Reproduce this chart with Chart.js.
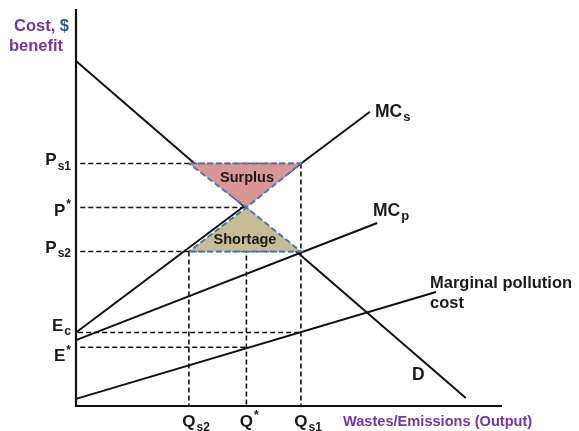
<!DOCTYPE html>
<html><head><meta charset="utf-8">
<script src="https://cdn.jsdelivr.net/npm/chart.js@4.4.1/dist/chart.umd.min.js"></script>
<style>html,body{margin:0;padding:0;background:#fff;}canvas{display:block;}</style>
</head><body>
<canvas id="c" width="579" height="431"></canvas>
<script>
// Quantities (x) and prices/costs (y), in chart units
const qLevels = { Qs2: 2.65, Qstar: 4.0, Qs1: 5.28 };
const pLevels = { Ps1: 6.11, Pstar: 5.0, Ps2: 3.89, Ec: 1.85, Estar: 1.48 };

// Curves (start and end points)
const demandCurve = [[0, 8.69], [9.15, 0.2]];
const mcSocialCurve = [[0, 1.85], [6.90, 7.41]];
const mcPrivateCurve = [[0, 1.66], [7.07, 4.61]];
const pollutionCostCurve = [[0, 0.18], [8.45, 2.87]];

// Surplus / shortage triangles
const surplusTriangle = [[2.65, 6.11], [5.28, 6.11], [4.0, 5.0], [2.65, 6.11]];
const shortageTriangle = [[2.65, 3.89], [5.28, 3.89], [4.0, 5.0], [2.65, 3.89]];

// Axis tick labels
const yTickValues = [6.11, 5.0, 3.89, 1.85, 1.48];
const yTickBase = ['P', 'P', 'P', 'E', 'E'];
const yTickSub = ['s1', '', 's2', 'c', ''];
const yTickSup = ['', '*', '', '', '*'];
const xTickValues = [2.65, 4.0, 5.28];
const xTickBase = ['Q', 'Q', 'Q'];
const xTickSub = ['s2', '', 's1'];
const xTickSup = ['', '*', ''];

const toPts = a => a.map(p => ({ x: p[0], y: p[1] }));

const guide = (pts) => ({
  data: toPts(pts), showLine: true, borderColor: '#111', borderWidth: 1.6,
  borderDash: [5, 3], pointRadius: 0, fill: false, order: 5
});
const curve = (pts) => ({
  data: toPts(pts), showLine: true, borderColor: '#111', borderWidth: 2,
  pointRadius: 0, fill: false, order: 3
});

const datasets = [
  // axes
  { data: [{x:0,y:10},{x:0,y:0},{x:10,y:0}], showLine: true, borderColor: '#111', borderWidth: 2.2, pointRadius: 0, fill: false, order: 1 },
  // triangles
  { data: toPts(surplusTriangle), showLine: true, borderColor: '#4a78b0', borderWidth: 2, borderDash: [6, 3],
    backgroundColor: '#d99694', fill: 'shape', pointRadius: 0, order: 2, tension: 0 },
  { data: toPts(shortageTriangle), showLine: true, borderColor: '#4a78b0', borderWidth: 2, borderDash: [6, 3],
    backgroundColor: '#c4bd97', fill: 'shape', pointRadius: 0, order: 2, tension: 0 },
  curve(demandCurve), curve(mcSocialCurve), curve(mcPrivateCurve), curve(pollutionCostCurve),
  // horizontal guides
  guide([[0.1, pLevels.Ps1], [qLevels.Qs1, pLevels.Ps1]]),
  guide([[0.1, pLevels.Pstar], [qLevels.Qstar, pLevels.Pstar]]),
  guide([[0.1, pLevels.Ps2], [qLevels.Qs1, pLevels.Ps2]]),
  guide([[0.05, pLevels.Ec], [qLevels.Qs1, pLevels.Ec]]),
  guide([[0.1, pLevels.Estar], [qLevels.Qstar, pLevels.Estar]]),
  // vertical guides
  guide([[qLevels.Qs2, pLevels.Ps2], [qLevels.Qs2, 0]]),
  guide([[qLevels.Qstar, pLevels.Pstar], [qLevels.Qstar, 0]]),
  guide([[qLevels.Qs1, pLevels.Ps1], [qLevels.Qs1, 0]])
];

const FONT = '"Liberation Sans", Arial, sans-serif';

function drawLabel(ctx, x, y, base, sub, sup, size, align) {
  ctx.font = 'bold ' + size + 'px ' + FONT;
  const bw = ctx.measureText(base).width;
  const ss = Math.round(size * 0.72);
  ctx.font = 'bold ' + ss + 'px ' + FONT;
  const sw = sub ? ctx.measureText(sub).width : 0;
  const pw = sup ? ctx.measureText(sup).width : 0;
  const total = bw + Math.max(sw, pw) + 1;
  let x0 = x;
  if (align === 'right') x0 = x - total;
  else if (align === 'center') x0 = x - bw / 2;
  ctx.textAlign = 'left';
  ctx.textBaseline = 'alphabetic';
  ctx.font = 'bold ' + size + 'px ' + FONT;
  ctx.fillText(base, x0, y);
  ctx.font = 'bold ' + ss + 'px ' + FONT;
  if (sub) ctx.fillText(sub, x0 + bw + 1, y + size * 0.25);
  if (sup) ctx.fillText(sup, x0 + bw + 1, y - size * 0.45);
}

const labelPlugin = {
  id: 'labels',
  afterDraw(chart) {
    const ctx = chart.ctx, xs = chart.scales.x, ys = chart.scales.y;
    ctx.save();
    ctx.fillStyle = '#1a1a1a';
    // y tick labels (baseline offsets per label)
    const yOff = [2, 8, 1, -2, 14];
    yTickValues.forEach((v, i) => {
      drawLabel(ctx, 71, ys.getPixelForValue(v) + yOff[i], yTickBase[i], yTickSub[i], yTickSup[i], 17, 'right');
    });
    xTickValues.forEach((v, i) => {
      drawLabel(ctx, xs.getPixelForValue(v), 427, xTickBase[i], xTickSub[i], xTickSup[i], 17, 'center');
    });
    // curve labels
    drawLabel(ctx, 375, 117, 'MC', 's', '', 17.5, 'left');
    drawLabel(ctx, 373, 216, 'MC', 'p', '', 17.5, 'left');
    ctx.font = 'bold 17.5px ' + FONT;
    ctx.fillText('D', 412, 380);
    ctx.font = 'bold 16.5px ' + FONT;
    ctx.fillText('Marginal pollution', 430, 288);
    ctx.fillText('cost', 430, 308);
    // triangle labels
    ctx.font = 'bold 14.5px ' + FONT;
    ctx.textAlign = 'center';
    ctx.fillText('Surplus', 247, 182);
    ctx.fillText('Shortage', 245, 244);
    // axis titles
    ctx.textAlign = 'left';
    ctx.font = 'bold 16.5px ' + FONT;
    ctx.fillStyle = '#7436a2';
    ctx.fillText('Cost,', 14, 31);
    const cw = ctx.measureText('Cost, ').width;
    ctx.fillStyle = '#2c5a9c';
    ctx.fillText('$', 14 + cw, 31);
    ctx.fillStyle = '#7436a2';
    ctx.fillText('benefit', 9, 51);
    ctx.font = 'bold 14.6px ' + FONT;
    ctx.fillText('Wastes/Emissions (Output)', 343, 426);
    ctx.restore();
  }
};

new Chart(document.getElementById('c'), {
  type: 'scatter',
  data: { datasets },
  options: {
    responsive: false,
    animation: false,
    clip: false,
    layout: { padding: { left: 76, right: 77, top: 9, bottom: 25 } },
    plugins: { legend: { display: false }, tooltip: { enabled: false } },
    elements: { line: { tension: 0 } },
    scales: {
      x: { type: 'linear', min: 0, max: 10, display: false },
      y: { type: 'linear', min: 0, max: 10, display: false }
    }
  },
  plugins: [labelPlugin]
});
</script>
</body></html>
